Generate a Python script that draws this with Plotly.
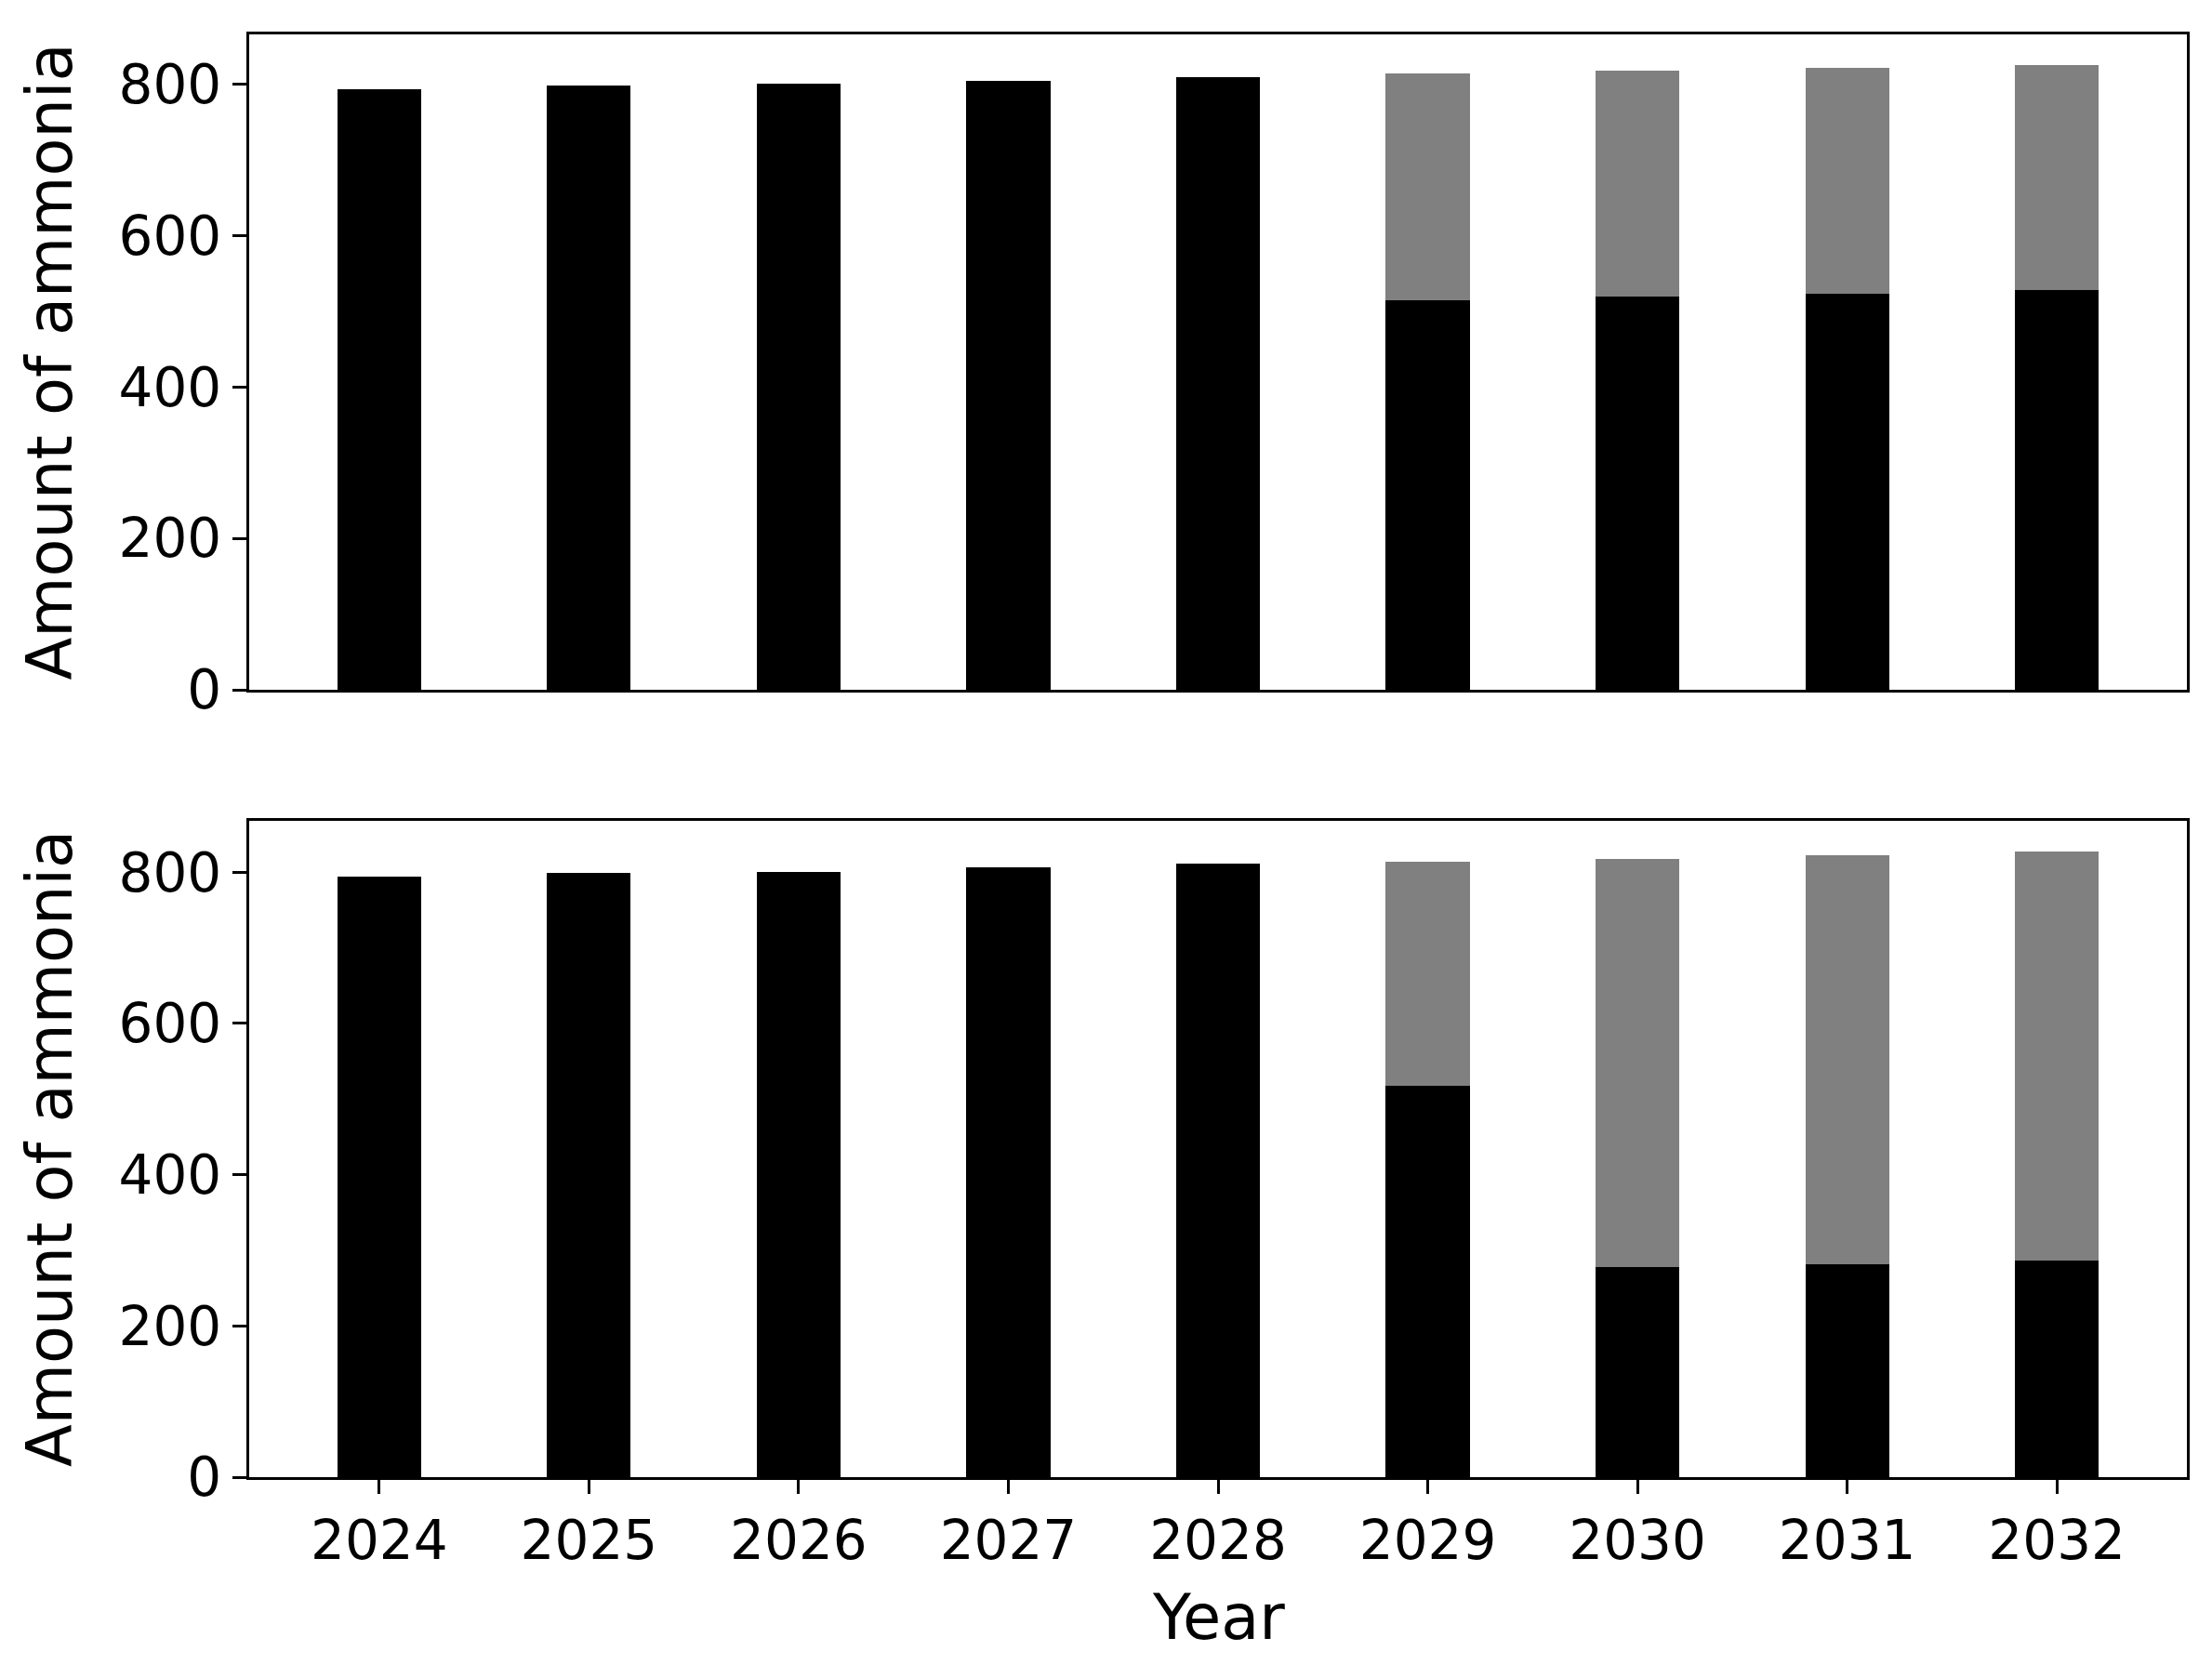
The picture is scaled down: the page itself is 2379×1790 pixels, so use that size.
import plotly.graph_objects as go

years = [2024, 2025, 2026, 2027, 2028, 2029, 2030, 2031, 2032]

# Top panel
top_black = [794, 798, 801, 805, 810, 515, 520, 523, 528]
top_gray = [0, 0, 0, 0, 0, 299, 298, 299, 298]

# Bottom panel
bot_black = [794, 799, 801, 806, 811, 517, 278, 281, 286]
bot_gray = [0, 0, 0, 0, 0, 297, 540, 541, 541]

yticks = [0, 200, 400, 600, 800]
y_label = "Amount of ammonia"
x_label = "Year"

FONT = "DejaVu Sans"
BAR_W = 0.4

fig = go.Figure()
fig.add_trace(go.Bar(x=years, y=top_black, width=BAR_W, marker=dict(color="#000000", line=dict(width=0)),
                     xaxis="x", yaxis="y", showlegend=False))
fig.add_trace(go.Bar(x=years, y=top_gray, width=BAR_W, marker=dict(color="#808080", line=dict(width=0)),
                     xaxis="x", yaxis="y", showlegend=False))
fig.add_trace(go.Bar(x=years, y=bot_black, width=BAR_W, marker=dict(color="#000000", line=dict(width=0)),
                     xaxis="x2", yaxis="y2", showlegend=False))
fig.add_trace(go.Bar(x=years, y=bot_gray, width=BAR_W, marker=dict(color="#808080", line=dict(width=0)),
                     xaxis="x2", yaxis="y2", showlegend=False))

W, H = 2379, 1790
OFF = 8  # page body offset
x0, x1 = (268 - OFF) / W, (2352 - OFF) / W
top_dom = [1 - (742 - OFF) / H, 1 - (37 - OFF) / H]
bot_dom = [1 - (1589 - OFF) / H, 1 - (883 - OFF) / H]

xr = [2023.38, 2032.62]
common_axis = dict(showline=True, linecolor="black", linewidth=3.3, mirror=True,
                   showgrid=False, zeroline=False, automargin=False,
                   tickfont=dict(family=FONT, size=58, color="black"))
tick_style = dict(ticks="outside", ticklen=15, tickwidth=3.3, tickcolor="black")

fig.update_layout(
    width=W, height=H,
    margin=dict(l=0, r=0, t=0, b=0, pad=0),
    paper_bgcolor="white", plot_bgcolor="white",
    barmode="stack", bargap=0,
    font=dict(family=FONT, color="black"),
    xaxis=dict(domain=[x0, x1], anchor="y", range=xr, tickvals=years,
               showticklabels=False, ticks="", **common_axis),
    yaxis=dict(domain=top_dom, anchor="x", range=[0, 866], tickvals=yticks,
               **tick_style, **common_axis),
    xaxis2=dict(domain=[x0, x1], anchor="y2", range=xr, tickvals=years,
                ticktext=[str(y) for y in years], **tick_style, **common_axis),
    yaxis2=dict(domain=bot_dom, anchor="x2", range=[0, 868], tickvals=yticks,
                **tick_style, **common_axis),
)

label_font = dict(family=FONT, size=67, color="black")
ylab_x = (54 - OFF) / W
for dom in (top_dom, bot_dom):
    fig.add_annotation(text=y_label, xref="paper", yref="paper", x=ylab_x, y=(dom[0] + dom[1]) / 2,
                       xanchor="center", yanchor="middle", textangle=-90, showarrow=False,
                       font=label_font)
fig.add_annotation(text=x_label, xref="paper", yref="paper", x=(x0 + x1) / 2, y=1 - (1740 - OFF) / H,
                   xanchor="center", yanchor="middle", showarrow=False, font=label_font)

fig.write_html("out.html")
